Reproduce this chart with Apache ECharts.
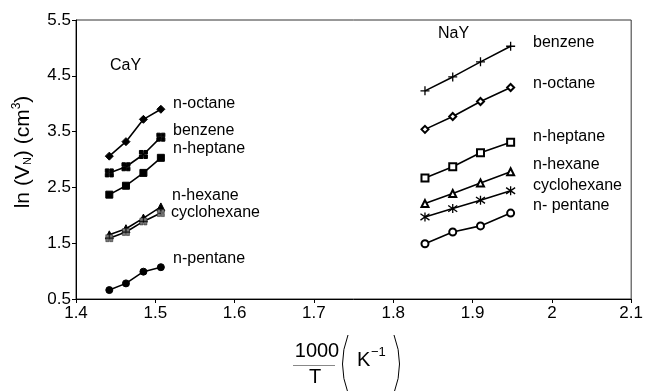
<!DOCTYPE html>
<html>
<head>
<meta charset="utf-8">
<script src="https://cdn.jsdelivr.net/npm/echarts@6/dist/echarts.min.js"></script>
<style>html,body{margin:0;padding:0;background:#fff}#c{width:646px;height:391px}</style>
</head>
<body>
<div id="c"></div>
<script>
// X values (1000/T, K^-1)
const xCaY = [1.442, 1.463, 1.485, 1.507];
const xNaY = [1.840, 1.875, 1.910, 1.948];

// CaY ln(VN)
const caY_octane      = [3.06, 3.32, 3.72, 3.90];
const caY_benzene     = [2.76, 2.87, 3.09, 3.40];
const caY_heptane     = [2.37, 2.53, 2.76, 3.03];
const caY_hexane      = [1.65, 1.76, 1.95, 2.15];
const caY_cyclohexane = [1.59, 1.70, 1.89, 2.04];
const caY_pentane     = [0.66, 0.78, 0.99, 1.07];

// NaY ln(VN)
const naY_benzene     = [4.23, 4.48, 4.75, 5.03];
const naY_octane      = [3.54, 3.77, 4.04, 4.29];
const naY_heptane     = [2.67, 2.87, 3.12, 3.31];
const naY_hexane      = [2.21, 2.39, 2.58, 2.78];
const naY_cyclohexane = [1.97, 2.12, 2.27, 2.44];
const naY_pentane     = [1.49, 1.70, 1.81, 2.04];

const xTicks = [1.4, 1.5, 1.6, 1.7, 1.8, 1.9, 2, 2.1];
const yTicks = [0.5, 1.5, 2.5, 3.5, 4.5, 5.5];

const FONT = 'Liberation Sans, Arial, Helvetica, sans-serif';
const zip = (xs, ys) => xs.map((x, i) => [x, ys[i]]);

const HATCH = 'path://M0,0h4v4h-4z M5,0h4v4h-4z M0,5h4v4h-4z M5,5h4v4h-4z';
const PLUS = 'path://M5,0L5,10M0,5L10,5';
const STAR = 'path://M5,0L5,10M0,1.5L10,8.5M0,8.5L10,1.5';

function ser(xs, ys, symbol, size, opts) {
  opts = opts || {};
  return {
    type: 'line',
    data: zip(xs, ys),
    symbol: symbol,
    symbolSize: size,
    showAllSymbol: true,
    lineStyle: { color: '#000', width: 1.6 },
    itemStyle: Object.assign({ color: '#000', borderColor: '#000', borderWidth: 1 }, opts.item || {}),
    z: 3,
    animation: false
  };
}

const series = [
  ser(xCaY, caY_octane, 'diamond', 8),
  ser(xCaY, caY_benzene, HATCH, 8),
  ser(xCaY, caY_heptane, 'rect', 7),
  ser(xCaY, caY_hexane, 'triangle', 8),
  ser(xCaY, caY_cyclohexane, HATCH, 7, { item: { color: '#777', borderColor: '#222', borderWidth: 0.5 } }),
  ser(xCaY, caY_pentane, 'circle', 7),
  ser(xNaY, naY_benzene, PLUS, 9, { item: { color: 'transparent', borderColor: '#000', borderWidth: 1.3 } }),
  ser(xNaY, naY_octane, 'emptyDiamond', 7, { item: { color: '#000', borderWidth: 1.2 } }),
  ser(xNaY, naY_heptane, 'emptyRect', 7, { item: { color: '#000', borderWidth: 1.2 } }),
  ser(xNaY, naY_hexane, 'emptyTriangle', 7, { item: { color: '#000', borderWidth: 1.2 } }),
  ser(xNaY, naY_cyclohexane, STAR, 9, { item: { color: 'transparent', borderColor: '#000', borderWidth: 1.3 } }),
  ser(xNaY, naY_pentane, 'emptyCircle', 7, { item: { color: '#000', borderWidth: 1.3 } })
];

function label(text, x, y) {
  return { type: 'text', x: x, y: y, z: 10,
    style: { text: text, fontSize: 16, fontFamily: FONT, fill: '#000', verticalAlign: 'middle', align: 'left' } };
}

const graphic = [
  label('CaY', 110, 66),
  label('n-octane', 173, 104),
  label('benzene', 173, 131),
  label('n-heptane', 173, 149),
  label('n-hexane', 172, 196),
  label('cyclohexane', 171, 213),
  label('n-pentane', 173, 259),
  label('NaY', 438, 34),
  label('benzene', 533, 43),
  label('n-octane', 533, 84),
  label('n-heptane', 533, 137),
  label('n-hexane', 533, 165),
  label('cyclohexane', 533, 186),
  label('n- pentane', 533, 206),
  // y axis title
  { type: 'text', x: 23, y: 152, rotation: Math.PI / 2, z: 10,
    style: {
      text: '{a|ln (V}{b|N}{a|) (cm}{c|3}{a|)}',
      align: 'center', verticalAlign: 'middle', fill: '#000',
      rich: {
        a: { fontSize: 21, fontFamily: FONT, fill: '#000', lineHeight: 24, verticalAlign: 'middle' },
        b: { fontSize: 11, fontFamily: FONT, fill: '#000', lineHeight: 24, verticalAlign: 'bottom', padding: [0, 0, 2, 0] },
        c: { fontSize: 12, fontFamily: FONT, fill: '#000', lineHeight: 24, verticalAlign: 'top' }
      }
    } },
  // x axis title: 1000/T (K^-1)
  { type: 'text', x: 317, y: 351, z: 10,
    style: { text: '1000', fontSize: 20, fontFamily: FONT, fill: '#000', align: 'center', verticalAlign: 'middle' } },
  { type: 'line', z: 10, shape: { x1: 293, y1: 365.5, x2: 335, y2: 365.5 }, style: { stroke: '#888', lineWidth: 1 } },
  { type: 'text', x: 315, y: 377, z: 10,
    style: { text: 'T', fontSize: 20, fontFamily: FONT, fill: '#000', align: 'center', verticalAlign: 'middle' } },
  { type: 'bezierCurve', z: 10, shape: { x1: 348, y1: 335, x2: 348, y2: 393, cpx1: 337, cpy1: 364 },
    style: { stroke: '#000', lineWidth: 1, fill: null } },
  { type: 'text', x: 357, y: 360, z: 10,
    style: { text: 'K', fontSize: 20, fontFamily: FONT, fill: '#000', align: 'left', verticalAlign: 'middle' } },
  { type: 'text', x: 371, y: 352, z: 10,
    style: { text: '\u22121', fontSize: 13, fontFamily: FONT, fill: '#000', align: 'left', verticalAlign: 'middle' } },
  { type: 'bezierCurve', z: 10, shape: { x1: 394, y1: 335, x2: 394, y2: 393, cpx1: 405, cpy1: 364 },
    style: { stroke: '#000', lineWidth: 1, fill: null } }
];

const chart = echarts.init(document.getElementById('c'), null, { renderer: 'canvas' });
chart.setOption({
  animation: false,
  backgroundColor: '#fff',
  grid: { left: 76, right: 5, top: 20, bottom: 92, show: true, borderColor: '#333', borderWidth: 1, backgroundColor: 'transparent' },
  xAxis: {
    type: 'value', min: xTicks[0], max: xTicks[xTicks.length - 1], interval: 0.1,
    axisLine: { show: true, lineStyle: { color: '#000', width: 1 } },
    axisTick: { show: true, length: 4, lineStyle: { color: '#000' } },
    splitLine: { show: false },
    axisLabel: { fontSize: 17, fontFamily: FONT, color: '#000', margin: 6,
      formatter: v => { const t = xTicks.find(k => Math.abs(k - v) < 1e-6); return t === undefined ? '' : String(t); } }
  },
  yAxis: {
    type: 'value', min: yTicks[0], max: yTicks[yTicks.length - 1], interval: 1,
    axisLine: { show: true, lineStyle: { color: '#000', width: 1 } },
    axisTick: { show: true, length: 4, lineStyle: { color: '#000' } },
    splitLine: { show: false },
    axisLabel: { fontSize: 17, fontFamily: FONT, color: '#000', margin: 5,
      formatter: v => { const t = yTicks.find(k => Math.abs(k - v) < 1e-6); return t === undefined ? '' : t.toFixed(1); } }
  },
  series: series,
  graphic: graphic
});
</script>
</body>
</html>
